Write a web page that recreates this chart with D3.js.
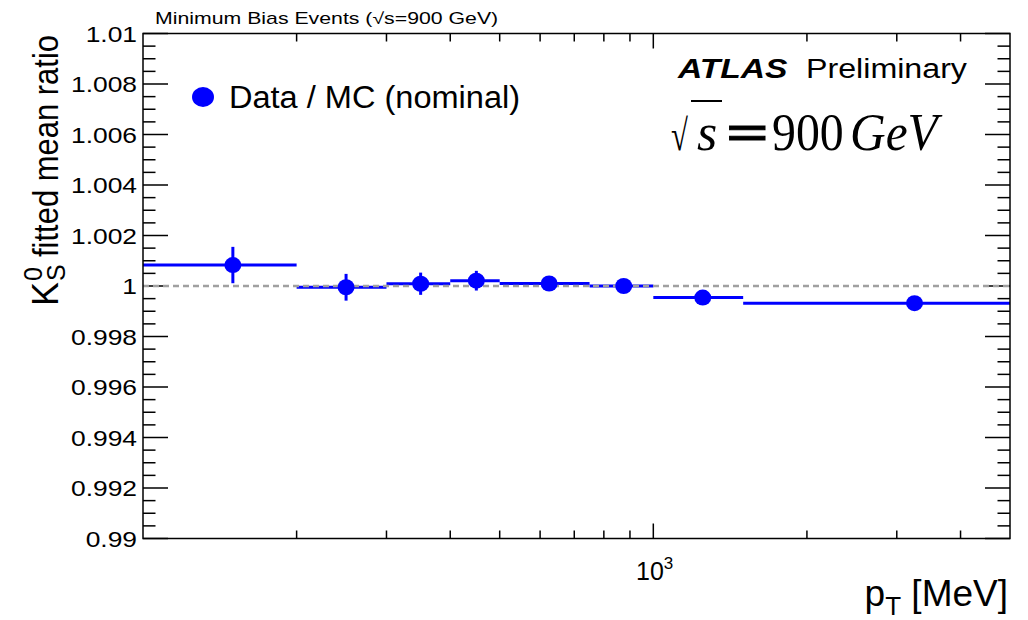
<!DOCTYPE html>
<html>
<head>
<meta charset="utf-8">
<script src="https://cdn.jsdelivr.net/npm/d3@7"></script>
<style>
  html, body { margin: 0; padding: 0; background: #fff; }
  svg { display: block; }
  text { font-family: "Liberation Sans", Arial, Helvetica, sans-serif; fill: #000; }
  .serif { font-family: "Liberation Serif", "Times New Roman", serif; }
</style>
</head>
<body>
<svg id="chart" width="1028" height="620"></svg>
<script>
// K0s fitted mean ratio, Data / MC, in bins of pT [MeV]
const binLow    = [100, 200, 300, 400, 500, 750, 1000, 1500];
const binHigh   = [200, 300, 400, 500, 750, 1000, 1500, 5000];
const binCenter = [150, 250, 350, 450, 625, 875, 1250, 3250];
const ratio     = [1.00083, 0.99995, 1.00009, 1.00021, 1.00010, 1.00000, 0.99954, 0.99932];
const ratioErr  = [0.00072, 0.00053, 0.00044, 0.00039, 0.00025, 0.00020, 0.00015, 0.00010];

const yTickValues = [0.99, 0.992, 0.994, 0.996, 0.998, 1.0, 1.002, 1.004, 1.006, 1.008, 1.01];
const yTickLabels = ["0.99", "0.992", "0.994", "0.996", "0.998", "1", "1.002", "1.004", "1.006", "1.008", "1.01"];
const xMinorTicks = [200, 300, 400, 500, 600, 700, 800, 900, 2000, 3000, 4000];
const xMajorTicks = [1000];

const svg = d3.select("#chart");
const L = 143, R = 1010, T = 33.5, B = 538.5;
const blue = "#0000ff";

const x = d3.scaleLog().domain([100, 5000]).range([L, R]);
const y = d3.scaleLinear().domain([0.99, 1.01]).range([B, T]);

const g = svg.append("g");

// ticks on all four sides (ROOT style)
const yMinor = d3.range(0, 41).map(i => 0.99 + i * 0.0005);
yMinor.forEach(v => {
  const major = yTickValues.some(t => Math.abs(t - v) < 1e-7);
  const len = major ? 25 : 12.5;
  g.append("line").attr("x1", L).attr("x2", L + len).attr("y1", y(v)).attr("y2", y(v))
    .attr("stroke", "#000").attr("stroke-width", 1.5);
  g.append("line").attr("x1", R).attr("x2", R - len).attr("y1", y(v)).attr("y2", y(v))
    .attr("stroke", "#000").attr("stroke-width", 1.5);
});
xMinorTicks.concat(xMajorTicks).forEach(v => {
  const len = xMajorTicks.includes(v) ? 15 : 8;
  g.append("line").attr("x1", x(v)).attr("x2", x(v)).attr("y1", B).attr("y2", B - len)
    .attr("stroke", "#000").attr("stroke-width", 1.5);
  g.append("line").attr("x1", x(v)).attr("x2", x(v)).attr("y1", T).attr("y2", T + len)
    .attr("stroke", "#000").attr("stroke-width", 1.5);
});

// y tick labels
yTickValues.forEach((v, i) => {
  g.append("text")
    .attr("transform", `translate(137,${y(v) + 8}) scale(1.2,1)`)
    .attr("text-anchor", "end")
    .attr("font-size", 22)
    .text(yTickLabels[i]);
});

// x tick label 10^3
const xl = g.append("text").attr("x", 636).attr("y", 580).attr("font-size", 25);
xl.append("tspan").text("10");
xl.append("tspan").attr("dy", -11).attr("font-size", 17).text("3");

// data: horizontal bin widths and vertical errors
const pts = binCenter.map((c, i) => ({ c, lo: binLow[i], hi: binHigh[i], v: ratio[i], e: ratioErr[i] }));
g.selectAll("line.hbar").data(pts).enter().append("line")
  .attr("x1", d => x(d.lo)).attr("x2", d => x(d.hi))
  .attr("y1", d => y(d.v)).attr("y2", d => y(d.v))
  .attr("stroke", blue).attr("stroke-width", 3);
g.selectAll("line.vbar").data(pts).enter().append("line")
  .attr("x1", d => x(d.c)).attr("x2", d => x(d.c))
  .attr("y1", d => y(d.v - d.e)).attr("y2", d => y(d.v + d.e))
  .attr("stroke", blue).attr("stroke-width", 3);

// reference line at unity
g.append("line").attr("x1", L).attr("x2", R).attr("y1", y(1)).attr("y2", y(1))
  .attr("stroke", "#a0a0a0").attr("stroke-width", 2.5).attr("stroke-dasharray", "6,4");

g.selectAll("ellipse.pt").data(pts).enter().append("ellipse")
  .attr("cx", d => x(d.c)).attr("cy", d => y(d.v))
  .attr("rx", 8.5).attr("ry", 8).attr("fill", blue);

// frame
g.append("rect").attr("x", L).attr("y", T).attr("width", R - L).attr("height", B - T)
  .attr("fill", "none").attr("stroke", "#000").attr("stroke-width", 1.5);

// axis titles
g.append("text").attr("x", 1008).attr("y", 606).attr("text-anchor", "end").attr("font-size", 37)
  .call(t => {
    t.append("tspan").text("p");
    t.append("tspan").attr("dy", 9).attr("font-size", 26).text("T");
    t.append("tspan").attr("dy", -9).text(" [MeV]");
  });

// y title, written along the axis and slightly condensed
const yt = g.append("g").attr("transform", "translate(58,0) rotate(-90)");
yt.append("text").attr("x", -306).attr("y", 0).attr("font-size", 36).text("K");
yt.append("text").attr("x", -281).attr("y", -16).attr("font-size", 25).text("0");
yt.append("text").attr("x", -281).attr("y", 7).attr("font-size", 25).text("S");
yt.append("g").attr("transform", "translate(-35,0) scale(0.885,1)")
  .append("text").attr("x", 0).attr("y", 0).attr("text-anchor", "end").attr("font-size", 35)
  .text("fitted mean ratio");

// top title
g.append("text").attr("transform", "translate(155,24) scale(1.33,1)").attr("font-size", 16)
  .text("Minimum Bias Events (\u221As=900 GeV)");

// legend
g.append("ellipse").attr("cx", 203).attr("cy", 97).attr("rx", 11).attr("ry", 10).attr("fill", blue);
g.append("text").attr("transform", "translate(229,108) scale(1.05,1)").attr("font-size", 31)
  .text("Data / MC (nominal)");

// ATLAS label
g.append("text").attr("transform", "translate(678,78) scale(1.2,1)").attr("font-size", 28)
  .attr("font-weight", "bold").attr("font-style", "italic").text("ATLAS");
g.append("text").attr("transform", "translate(806,78) scale(1.15,1)").attr("font-size", 28)
  .text("Preliminary");

// sqrt(s) = 900 GeV
g.append("text").attr("class", "serif").attr("transform", "translate(671,150) scale(0.7,1)")
  .attr("font-size", 44).text("\u221A");
g.append("line").attr("x1", 691).attr("x2", 722).attr("y1", 101).attr("y2", 101)
  .attr("stroke", "#000").attr("stroke-width", 2);
g.append("text").attr("class", "serif").attr("x", 697).attr("y", 150).attr("font-size", 52)
  .attr("font-style", "italic").text("s");
g.append("text").attr("class", "serif").attr("transform", "translate(726,150) scale(1.45,1)")
  .attr("font-size", 52).attr("font-weight", "bold").attr("stroke", "#000").attr("stroke-width", 1)
  .text("=");
g.append("text").attr("class", "serif").attr("transform", "translate(772,150) scale(0.92,1)")
  .attr("font-size", 52).text("900");
g.append("text").attr("class", "serif").attr("transform", "translate(850,150) scale(0.95,1)")
  .attr("font-size", 52).attr("font-style", "italic").text("GeV");
</script>
</body>
</html>
